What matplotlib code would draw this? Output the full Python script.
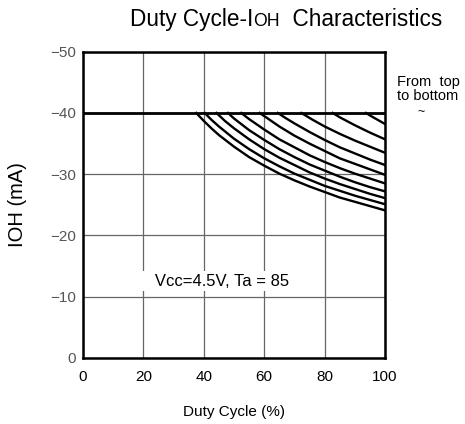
import matplotlib
matplotlib.use("Agg")
import matplotlib.pyplot as plt

plt.rcParams["font.family"] = ["Liberation Sans", "DejaVu Sans"]

# duty cycle (%) / IOH (mA), curves listed bottom to top
curve_x = [
    [37.5, 40, 42.5, 45, 50, 55, 60, 65, 70, 75, 80, 85, 90, 95, 100],
    [40.3, 42.5, 45, 50, 55, 60, 65, 70, 75, 80, 85, 90, 95, 100],
    [44.2, 47, 50, 55, 60, 65, 70, 75, 80, 85, 90, 95, 100],
    [48.0, 50, 55, 60, 65, 70, 75, 80, 85, 90, 95, 100],
    [52.4, 55, 60, 65, 70, 75, 80, 85, 90, 95, 100],
    [58.5, 60, 65, 70, 75, 80, 85, 90, 95, 100],
    [64.5, 67, 70, 75, 80, 85, 90, 95, 100],
    [72.3, 76, 80, 85, 90, 95, 100],
    [82.7, 85, 90, 95, 100],
    [93.7, 95, 97.5, 100],
]
curve_y = [
    [-40, -38.7, -37.5, -36.4, -34.5, -32.8, -31.4, -30.1, -29.0, -28.0, -27.1, -26.2, -25.5, -24.8, -24.1],
    [-40, -38.9, -37.8, -35.8, -34.1, -32.6, -31.3, -30.1, -29.1, -28.1, -27.3, -26.5, -25.8, -25.1],
    [-40, -38.7, -37.5, -35.7, -34.1, -32.7, -31.5, -30.3, -29.3, -28.4, -27.6, -26.8, -26.1],
    [-40, -39.1, -37.2, -35.6, -34.1, -32.8, -31.6, -30.6, -29.6, -28.7, -27.9, -27.2],
    [-40, -39.0, -37.3, -35.7, -34.4, -33.1, -32.0, -31.0, -30.1, -29.3, -28.5],
    [-40, -39.5, -37.8, -36.3, -35.0, -33.8, -32.6, -31.7, -30.8, -29.9],
    [-40, -39.2, -38.3, -36.9, -35.6, -34.4, -33.4, -32.4, -31.5],
    [-40, -38.9, -37.8, -36.6, -35.5, -34.5, -33.5],
    [-40, -39.3, -38.0, -36.8, -35.7],
    [-40, -39.6, -38.9, -38.2],
]
limit_x = [0, 100]
limit_y = [-40, -40]

x_ticks = [0, 20, 40, 60, 80, 100]
y_ticks = [0, -10, -20, -30, -40, -50]
y_tick_labels = ["0", "\u221210", "\u221220", "\u221230", "\u221240", "\u221250"]

fig = plt.figure(figsize=(4.65, 4.24), dpi=100)
ax = fig.add_axes([0.1785, 0.1557, 0.6495, 0.7223])

ax.plot(limit_x, limit_y, color="black", lw=2.0, solid_capstyle="butt", zorder=4)
for xs, ys in zip(curve_x, curve_y):
    ax.plot(xs, ys, color="black", lw=1.7, zorder=4)

ax.set_xlim(0, 100)
ax.set_ylim(0, -50)
ax.set_xticks(x_ticks)
ax.set_yticks(y_ticks)
ax.set_yticklabels(y_tick_labels)
ax.tick_params(axis="both", length=0)
ax.tick_params(axis="x", labelsize=11, pad=9)
ax.tick_params(axis="y", labelsize=11, pad=5, labelcolor="#555555")
ax.grid(True, color="#666666", lw=0.9)
for s in ax.spines.values():
    s.set_linewidth(1.8)
    s.set_color("black")

ax.set_xlabel("Duty Cycle (%)", fontsize=11, labelpad=15)
ax.set_ylabel("IOH (mA)", fontsize=14.5, labelpad=17)

ax.text(49.0, -12.56, "   Vcc=4.5V, Ta = 85       ", fontsize=12, ha="center",
        va="center", zorder=5,
        bbox=dict(boxstyle="square,pad=0.15", fc="white", ec="none"))

fig.text(0.853, 1 - 100 / 424, "From  top\nto bottom", fontsize=10.5, ha="left",
         va="baseline", linespacing=1.0)
fig.text(0.906, 1 - 112 / 424, "~", fontsize=9, ha="center", va="center")

# title with small "OH"
fig.canvas.draw()
r = fig.canvas.get_renderer()
xpos = 130 / 465
for s, size in [("Duty Cycle-I", 16.3), ("OH", 12.7), ("  Characteristics", 16.3)]:
    t = fig.text(xpos, 1 - 26 / 424, s, fontsize=size, ha="left", va="baseline")
    xpos += t.get_window_extent(renderer=r).width / fig.bbox.width

fig.savefig("out.png", dpi=100)
